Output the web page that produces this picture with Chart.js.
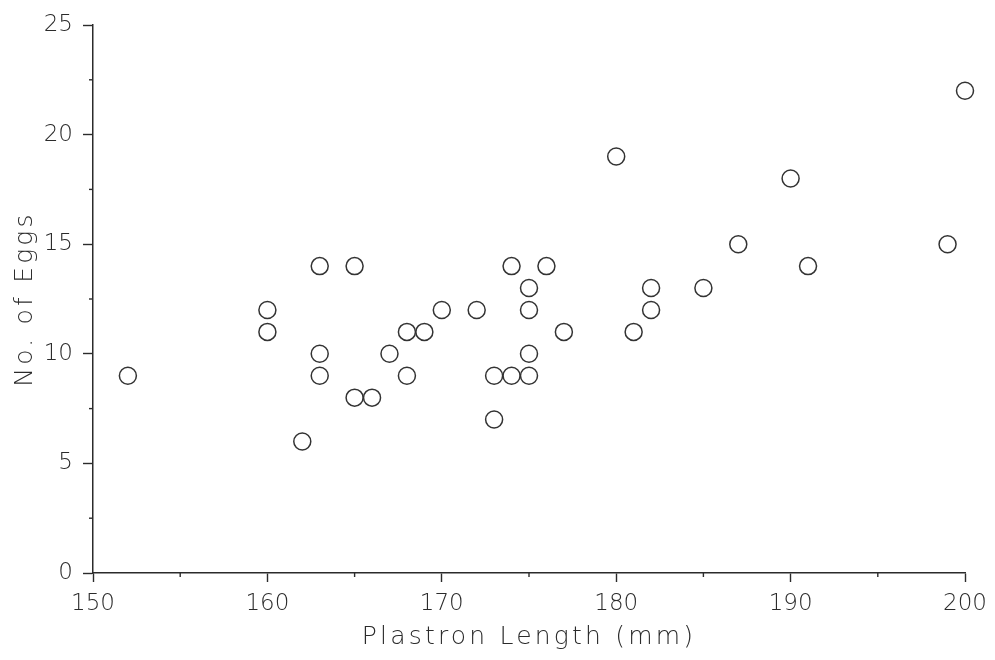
<!DOCTYPE html>
<html><head><meta charset="utf-8">
<script src="https://cdn.jsdelivr.net/npm/chart.js@4/dist/chart.umd.min.js"></script>
<style>html,body{margin:0;padding:0;background:#fff}</style>
</head><body>
<canvas id="c" width="995" height="660"></canvas>
<script>
// Data
const plastronLength = [152,160,160,162,163,163,163,165,165,166,167,168,168,169,170,172,173,173,174,174,175,175,175,175,176,177,180,181,182,182,185,187,190,191,199,200];
const eggCount       = [9,  12, 11, 6,  14, 10, 9,  14, 8,  8,  10, 11, 9,  11, 12, 12, 9,  7,  14, 9,  13, 12, 10, 9,  14, 11, 19, 11, 13, 12, 13, 15, 18, 14, 15, 22];
const xAxisTitle = 'Plastron Length (mm)';
const yAxisTitle = 'No. of Eggs';
const xRange = [150, 200];
const yRange = [0, 25];

const points = plastronLength.map((x, i) => ({x: x, y: eggCount[i]}));
const ink = '#2b2b2b';
const FONT = '"DejaVu Sans", "Liberation Sans", sans-serif';

const spacingPlugin = {
  id: 'spacing',
  beforeDraw(chart) { chart.ctx.letterSpacing = '3.2px'; },
  afterDatasetsDraw(chart) { chart.ctx.letterSpacing = '0px'; },
  afterDraw(chart) {
    const ctx = chart.ctx;
    ctx.save();
    ctx.strokeStyle = ink;
    ctx.lineWidth = 1.4;
    const xs = chart.scales.x, ys = chart.scales.y;
    const xt = xs.ticks.map(t => t.value);
    for (let i = 0; i < xt.length - 1; i++) {
      const px = xs.getPixelForValue((xt[i] + xt[i+1]) / 2);
      ctx.beginPath(); ctx.moveTo(px, xs.top); ctx.lineTo(px, xs.top + 4); ctx.stroke();
    }
    const yt = ys.ticks.map(t => t.value);
    for (let i = 0; i < yt.length - 1; i++) {
      const py = ys.getPixelForValue((yt[i] + yt[i+1]) / 2);
      ctx.beginPath(); ctx.moveTo(ys.right, py); ctx.lineTo(ys.right - 4, py); ctx.stroke();
    }
    ctx.restore();
  }
};

new Chart(document.getElementById('c'), {
  type: 'scatter',
  data: { datasets: [{
    data: points,
    clip: false,
    pointStyle: 'circle',
    pointRadius: 8.5,
    pointHoverRadius: 8.5,
    pointBorderWidth: 1.5,
    pointBorderColor: '#333',
    pointBackgroundColor: 'rgba(0,0,0,0)'
  }]},
  options: {
    responsive: false,
    animation: false,
    events: [],
    layout: { padding: { left: 0, right: 30, top: 25, bottom: 0 } },
    plugins: { legend: { display: false }, tooltip: { enabled: false } },
    scales: {
      x: {
        type: 'linear', min: xRange[0], max: xRange[1],
        afterFit(s) { s.height = 87; },
        ticks: { stepSize: 10, color: ink, padding: 8, z: 1, maxRotation: 0,
                 font: { family: FONT, size: 23, weight: '200' } },
        grid: { drawOnChartArea: false, drawTicks: true, tickLength: 9, tickColor: ink, tickWidth: 1.4 },
        border: { display: true, color: ink, width: 1.5 },
        title: { display: true, text: xAxisTitle, color: ink, padding: { top: 0, bottom: 8 },
                 font: { family: FONT, size: 25, weight: '200' } }
      },
      y: {
        type: 'linear', min: yRange[0], max: yRange[1],
        afterFit(s) { s.width = 93; },
        ticks: { stepSize: 5, color: ink, padding: 10, z: 1,
                 font: { family: FONT, size: 23, weight: '200' } },
        grid: { drawOnChartArea: false, drawTicks: true, tickLength: 10, tickColor: ink, tickWidth: 1.4 },
        border: { display: true, color: ink, width: 1.5 },
        title: { display: true, text: yAxisTitle, color: ink, padding: { top: 10, bottom: 0 },
                 font: { family: FONT, size: 25, weight: '200' } }
      }
    }
  },
  plugins: [spacingPlugin]
});
</script>
</body></html>
